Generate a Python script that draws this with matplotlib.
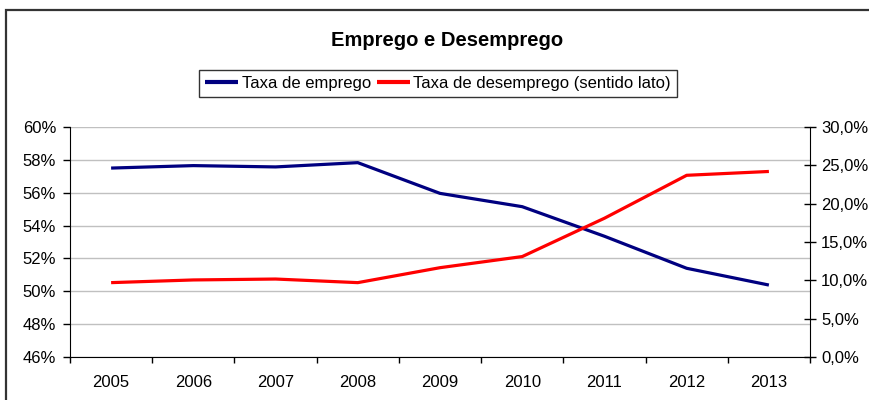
import numpy as np
import matplotlib
matplotlib.use("Agg")
import matplotlib.pyplot as plt
from matplotlib.ticker import FuncFormatter, FixedLocator
from matplotlib.patches import Rectangle

plt.rcParams['font.family'] = ['Liberation Sans', 'DejaVu Sans']

years = ["2005", "2006", "2007", "2008", "2009", "2010", "2011", "2012", "2013"]
taxa_emprego = [57.5, 57.65, 57.57, 57.83, 55.96, 55.15, 53.35, 51.4, 50.38]
taxa_desemprego = [9.7, 10.05, 10.17, 9.7, 11.65, 13.1, 18.1, 23.7, 24.2]

fig = plt.figure(figsize=(8.69, 4.0), dpi=100)

# chart border (Excel-style frame, cut off right and bottom)
fig.patches.append(Rectangle((6 / 869, -0.05), 1.0, 1 - 10 / 400 + 0.05,
                             transform=fig.transFigure, fill=False,
                             edgecolor="#333333", lw=1.6))

ax = fig.add_axes([70 / 869, 43 / 400, 740 / 869, 230 / 400])
ax2 = ax.twinx()

x = np.arange(len(years))
l1, = ax.plot(x, taxa_emprego, color="#000080", lw=2.3, solid_capstyle="butt")
l2, = ax2.plot(x, taxa_desemprego, color="#FF0000", lw=2.3, solid_capstyle="butt")

ax.set_xlim(-0.5, len(years) - 0.5)
ax.set_ylim(46, 60)
ax.set_yticks(np.arange(46, 61, 2))
ax.yaxis.set_major_formatter(FuncFormatter(lambda v, p: "%d%%" % v))
ax.grid(axis="y", color="#c0c0c0", lw=1)
ax.set_axisbelow(True)

ax.set_xticks(x)
ax.set_xticklabels(years)
ax.xaxis.set_minor_locator(FixedLocator(np.arange(-0.5, len(years), 1)))
ax.tick_params(axis="x", which="major", length=0, pad=13, labelsize=12)
ax.tick_params(axis="x", which="minor", length=4, direction="out", width=1)
ax.tick_params(axis="y", length=5, direction="out", width=1, labelsize=12, pad=5)

ax2.set_ylim(0, 30)
ax2.set_yticks(np.arange(0, 31, 5))
ax2.yaxis.set_major_formatter(FuncFormatter(lambda v, p: ("%.1f%%" % v).replace(".", ",")))
ax2.tick_params(axis="y", length=8, direction="inout", width=1, labelsize=12, pad=4)

for a in (ax, ax2):
    a.spines["top"].set_visible(False)
ax.spines["right"].set_visible(False)
ax2.spines["left"].set_visible(False)
ax2.spines["bottom"].set_visible(False)
ax.spines["left"].set_color("black")
ax.spines["bottom"].set_color("black")
ax2.spines["right"].set_color("black")

fig.text(447 / 869, 1 - 40 / 400, "Emprego e Desemprego", ha="center", va="center",
         fontsize=14.5, fontweight="bold")

leg = fig.legend([l1, l2], ["Taxa de emprego", "Taxa de desemprego (sentido lato)"],
                 loc="center", bbox_to_anchor=(438 / 869, 1 - 83.5 / 400), ncol=2,
                 frameon=True, fancybox=False, fontsize=12, handlelength=2.0,
                 handletextpad=0.2, columnspacing=0.35, borderpad=0.38,
                 borderaxespad=0)
leg.get_frame().set_edgecolor("black")
leg.get_frame().set_linewidth(1)
for h in leg.get_lines():
    h.set_linewidth(3)

fig.savefig("out.png", dpi=100)
